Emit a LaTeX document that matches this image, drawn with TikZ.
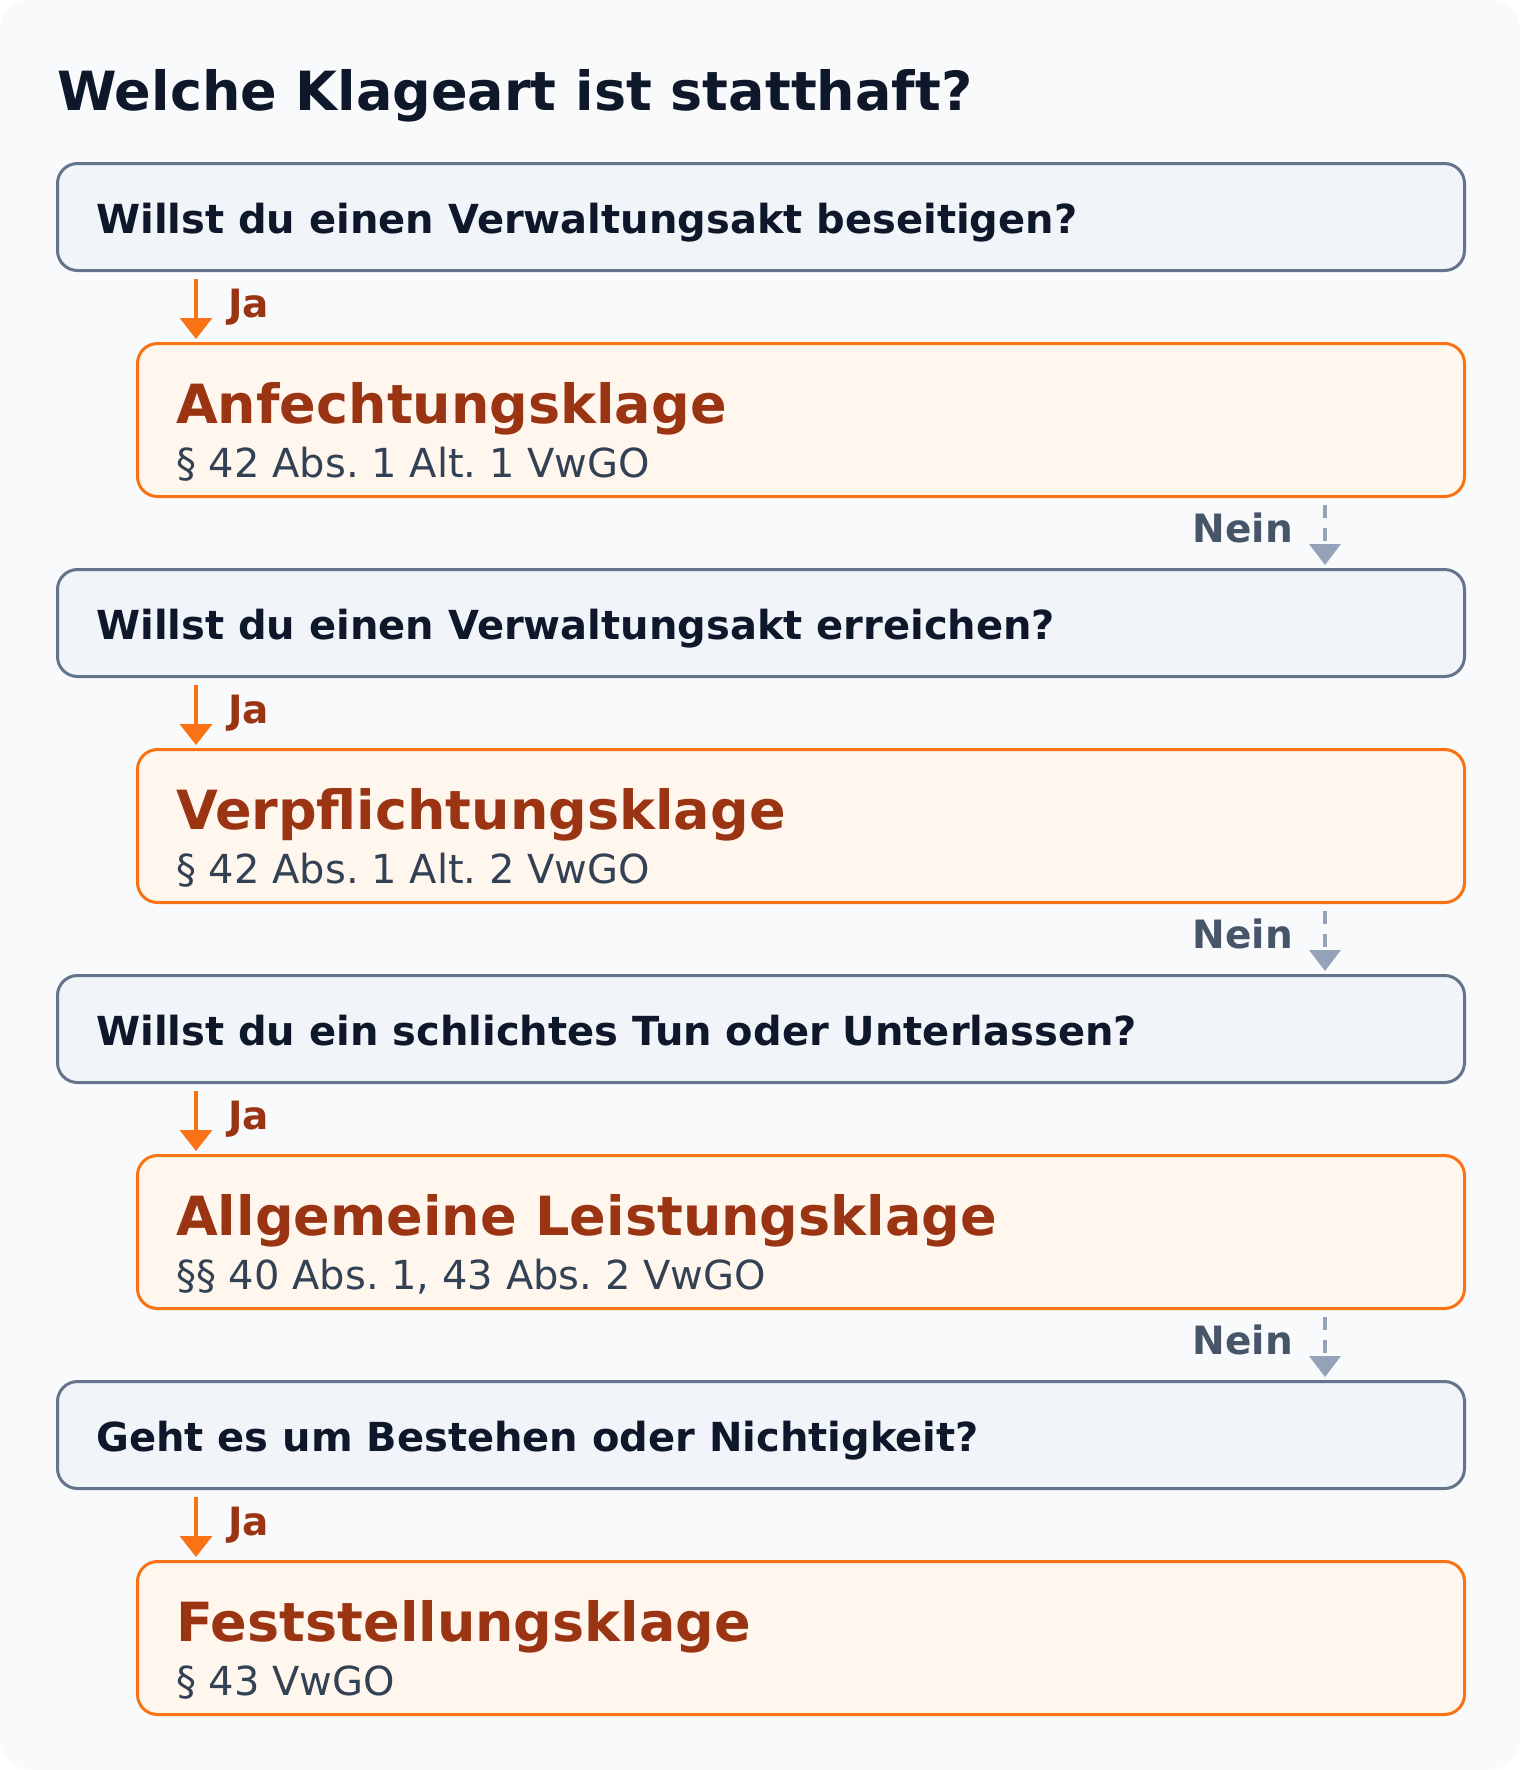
\documentclass[tikz,border=0pt]{standalone}
\usepackage{fontspec}
\setmainfont{DejaVu Sans}
\usetikzlibrary{arrows.meta}
\definecolor{bgc}{HTML}{F8FAFC}
\definecolor{qfill}{HTML}{F1F5F9}
\definecolor{qline}{HTML}{64748B}
\definecolor{ofill}{HTML}{FFF7ED}
\definecolor{oline}{HTML}{F97316}
\definecolor{ink}{HTML}{0F172A}
\definecolor{otext}{HTML}{9A3412}
\definecolor{stext}{HTML}{334155}
\definecolor{ntext}{HTML}{475569}
\definecolor{nline}{HTML}{94A3B8}
\tikzset{
  qbox/.style={draw=qline, fill=qfill, line width=3pt, rounded corners=20pt, inner sep=0pt, minimum width=1407pt, minimum height=107pt, anchor=north west},
  obox/.style={draw=oline, fill=ofill, line width=3pt, rounded corners=20pt, inner sep=0pt, minimum width=1327pt, minimum height=153pt, anchor=north west},
  titletext/.style={inner sep=0pt, anchor=base west, text=ink, font=\fontsize{54}{60}\selectfont\bfseries},
  qtext/.style={inner sep=0pt, anchor=base west, text=ink, font=\fontsize{40}{46}\selectfont\bfseries},
  otitle/.style={inner sep=0pt, anchor=base west, text=otext, font=\fontsize{54}{60}\selectfont\bfseries},
  osub/.style={inner sep=0pt, anchor=base west, text=stext, font=\fontsize{40}{46}\selectfont},
  jalabel/.style={inner sep=0pt, anchor=base west, text=otext, font=\fontsize{39}{44}\selectfont\bfseries},
  neinlabel/.style={inner sep=0pt, anchor=base east, text=ntext, font=\fontsize{39}{44}\selectfont\bfseries},
  jaarrow/.style={draw=oline, line width=3.5pt, -{Triangle[width=32pt,length=21pt]}},
  neinarrow/.style={draw=nline, line width=3.5pt, dash pattern=on 13pt off 10pt, -{Triangle[width=31pt,length=21pt]}},
}
\begin{document}
\frenchspacing
\begin{tikzpicture}[x=1pt,y=-1pt]
\useasboundingbox (0,0) rectangle (1520,1770);
\fill[white] (0,0) rectangle (1520,1770);
\fill[bgc, rounded corners=30pt] (0,0) rectangle (1520,1770);
\node[titletext] (title) at (57,110) {Welche Klageart ist statthaft?};
\foreach \i/\q/\t/\s in {
  0/{Willst du einen Verwaltungsakt beseitigen?}/{Anfechtungsklage}/{§ 42 Abs. 1 Alt. 1 VwGO},
  1/{Willst du einen Verwaltungsakt erreichen?}/{Verpflichtungsklage}/{§ 42 Abs. 1 Alt. 2 VwGO},
  2/{Willst du ein schlichtes Tun oder Unterlassen?}/{Allgemeine Leistungsklage}/{§§ 40 Abs. 1, 43 Abs. 2 VwGO},
  3/{Geht es um Bestehen oder Nichtigkeit?}/{Feststellungsklage}/{§ 43 VwGO}} {
  \node[qbox] (q\i) at (56,{162+406*\i}) {};
  \node[qtext] (qt\i) at (96,{233+406*\i}) {\q};
  \node[obox] (o\i) at (136,{342+406*\i}) {};
  \node[otitle] (ot\i) at (176,{423+406*\i}) {\t};
  \node[osub] (os\i) at (176,{477+406*\i}) {\s};
  \draw[jaarrow] ([xshift=140pt,yshift=-7pt]q\i.south west) -- ([xshift=60pt,yshift=3pt]o\i.north west);
  \node[jalabel] (ja\i) at (228,{317+406*\i}) {Ja};
}
\foreach \i in {0,1,2} {
  \pgfmathtruncatemacro{\j}{\i+1}
  \draw[neinarrow] ([xshift=-141pt,yshift=-7pt]o\i.south east) -- ([xshift=-141pt,yshift=3pt]q\j.north east);
  \node[neinlabel] (nein\i) at (1293,{542+406*\i}) {Nein};
}
\end{tikzpicture}
\end{document}
